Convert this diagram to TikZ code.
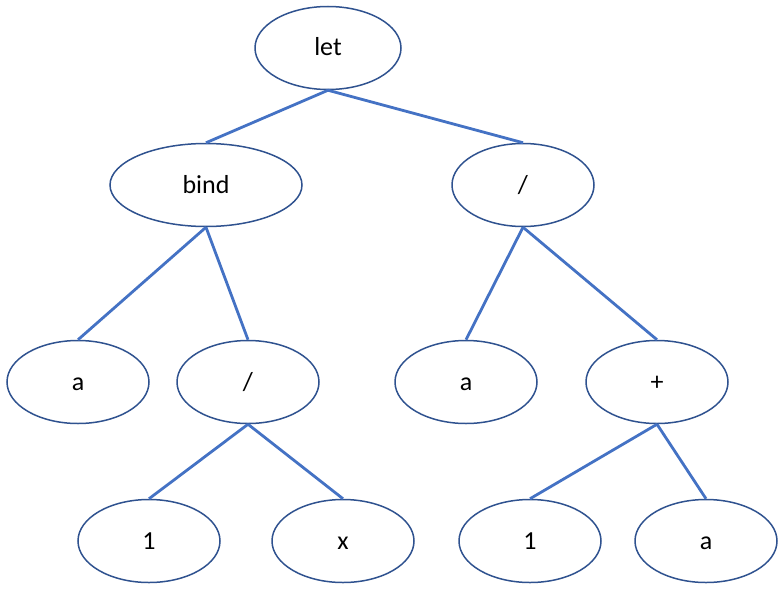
\documentclass[tikz,border=0pt]{standalone}
\usepackage{fontspec}
\setmainfont{Carlito}
\usepackage{tikz}
\usetikzlibrary{shapes.geometric}
\definecolor{linkblue}{HTML}{4472C4}
\definecolor{rimblue}{HTML}{2F528F}
\tikzset{tnode/.style = {shape=ellipse,draw=rimblue,line width=1.5pt,minimum width=142pt,minimum height=83pt,inner sep=0pt,text height=20pt,text depth=4pt,font=\fontsize{26}{30}\selectfont}}
\tikzset{branch/.style = {draw=linkblue,line width=2.8pt}}

\begin{document}
\begin{tikzpicture}[x=1pt,y=-1pt]
                    \useasboundingbox (0,0) rectangle (783,588);

                    \node[tnode, minimum width=146pt] (let) at (328,48) {let};
                    \node[tnode, minimum width=192pt] (bind) at (206,185) {bind};
                    \node[tnode] (rdiv) at (523,185) {/};
                    \node[tnode] (la) at (78,382) {a};
                    \node[tnode] (ldiv) at (248,382) {/};
                    \node[tnode] (ra) at (466,382) {a};
                    \node[tnode] (plus) at (657,382) {+};
                    \node[tnode] (lone) at (149,541) {1};
                    \node[tnode] (lx) at (343,541) {x};
                    \node[tnode] (rone) at (530,541) {1};
                    \node[tnode] (rra) at (706,541) {a};

                    \foreach \p/\c in {let/bind, let/rdiv, bind/la, bind/ldiv,
                                       rdiv/ra, rdiv/plus, ldiv/lone, ldiv/lx,
                                       plus/rone, plus/rra} {
                      \draw[branch] (\p.south) -- (\c.north);
                    }
                  \end{tikzpicture}
\end{document}
